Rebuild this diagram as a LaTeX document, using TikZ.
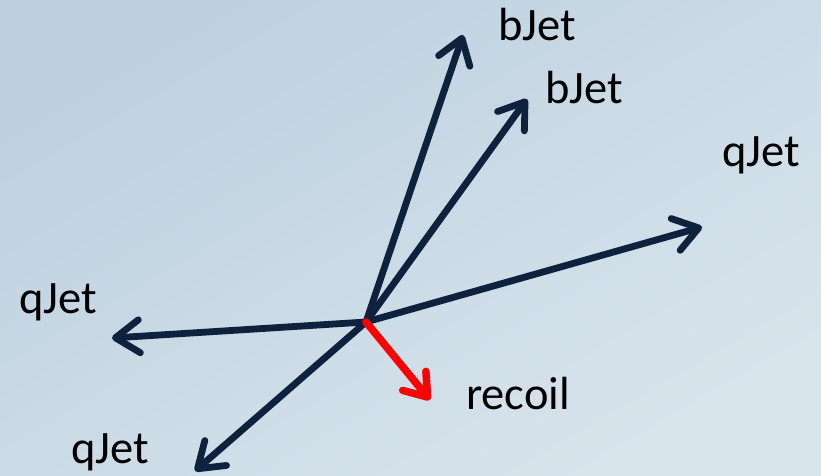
\documentclass[tikz,border=0pt]{standalone}
\usepackage{fontspec}
\setmainfont{Carlito}
\usetikzlibrary{arrows.meta}
\definecolor{bgA}{RGB}{189,209,224}
\definecolor{bgB}{RGB}{216,228,236}
\definecolor{jetnavy}{RGB}{14,34,62}
\definecolor{recoilred}{RGB}{255,0,0}
\tikzset{
  jet/.style={draw=jetnavy, line width=6.8pt, line cap=round,
    -{Straight Barb[length=24pt, width=33pt, round]}},
  recoilarrow/.style={draw=recoilred, line width=7.5pt, line cap=round,
    -{Straight Barb[length=21pt, width=30pt, round]}},
  lbl/.style={anchor=base west, inner sep=0pt, outer sep=0pt,
    font=\fontsize{46.5}{52}\selectfont, text=black}
}
\begin{document}
\begin{tikzpicture}[x=1pt,y=1pt]
  \useasboundingbox (0,0) rectangle (821,475);
  \shade[shading=axis, top color=bgA, bottom color=bgB, shading angle=30] (0,0) rectangle (821,475);
  % centre and tips
  \coordinate (o) at (366,153);
  \coordinate (b1) at (463,440);
  \coordinate (b2) at (527,376);
  \coordinate (qr) at (702,248);
  \coordinate (ql) at (112,137);
  \coordinate (qb) at (195,4);
  \coordinate (rc) at (430,75);
  % arrows
  \draw[jet] (o) -- (qb);
  \draw[jet] (o) -- (ql);
  \draw[jet] (o) -- (b1);
  \draw[jet] (o) -- (b2);
  \draw[jet] (o) -- (qr);
  \draw[recoilarrow] (o) -- (rc);
  % labels
  \node[lbl] (lb1) at (498,434) {bJet};
  \node[lbl] (lb2) at (545,371) {bJet};
  \node[lbl] (lqr) at (722,309) {qJet};
  \node[lbl] (lql) at (19,162) {qJet};
  \node[lbl] (lrc) at (466,66) {recoil};
  \node[lbl] (lqb) at (71,12) {qJet};
\end{tikzpicture}
\end{document}
